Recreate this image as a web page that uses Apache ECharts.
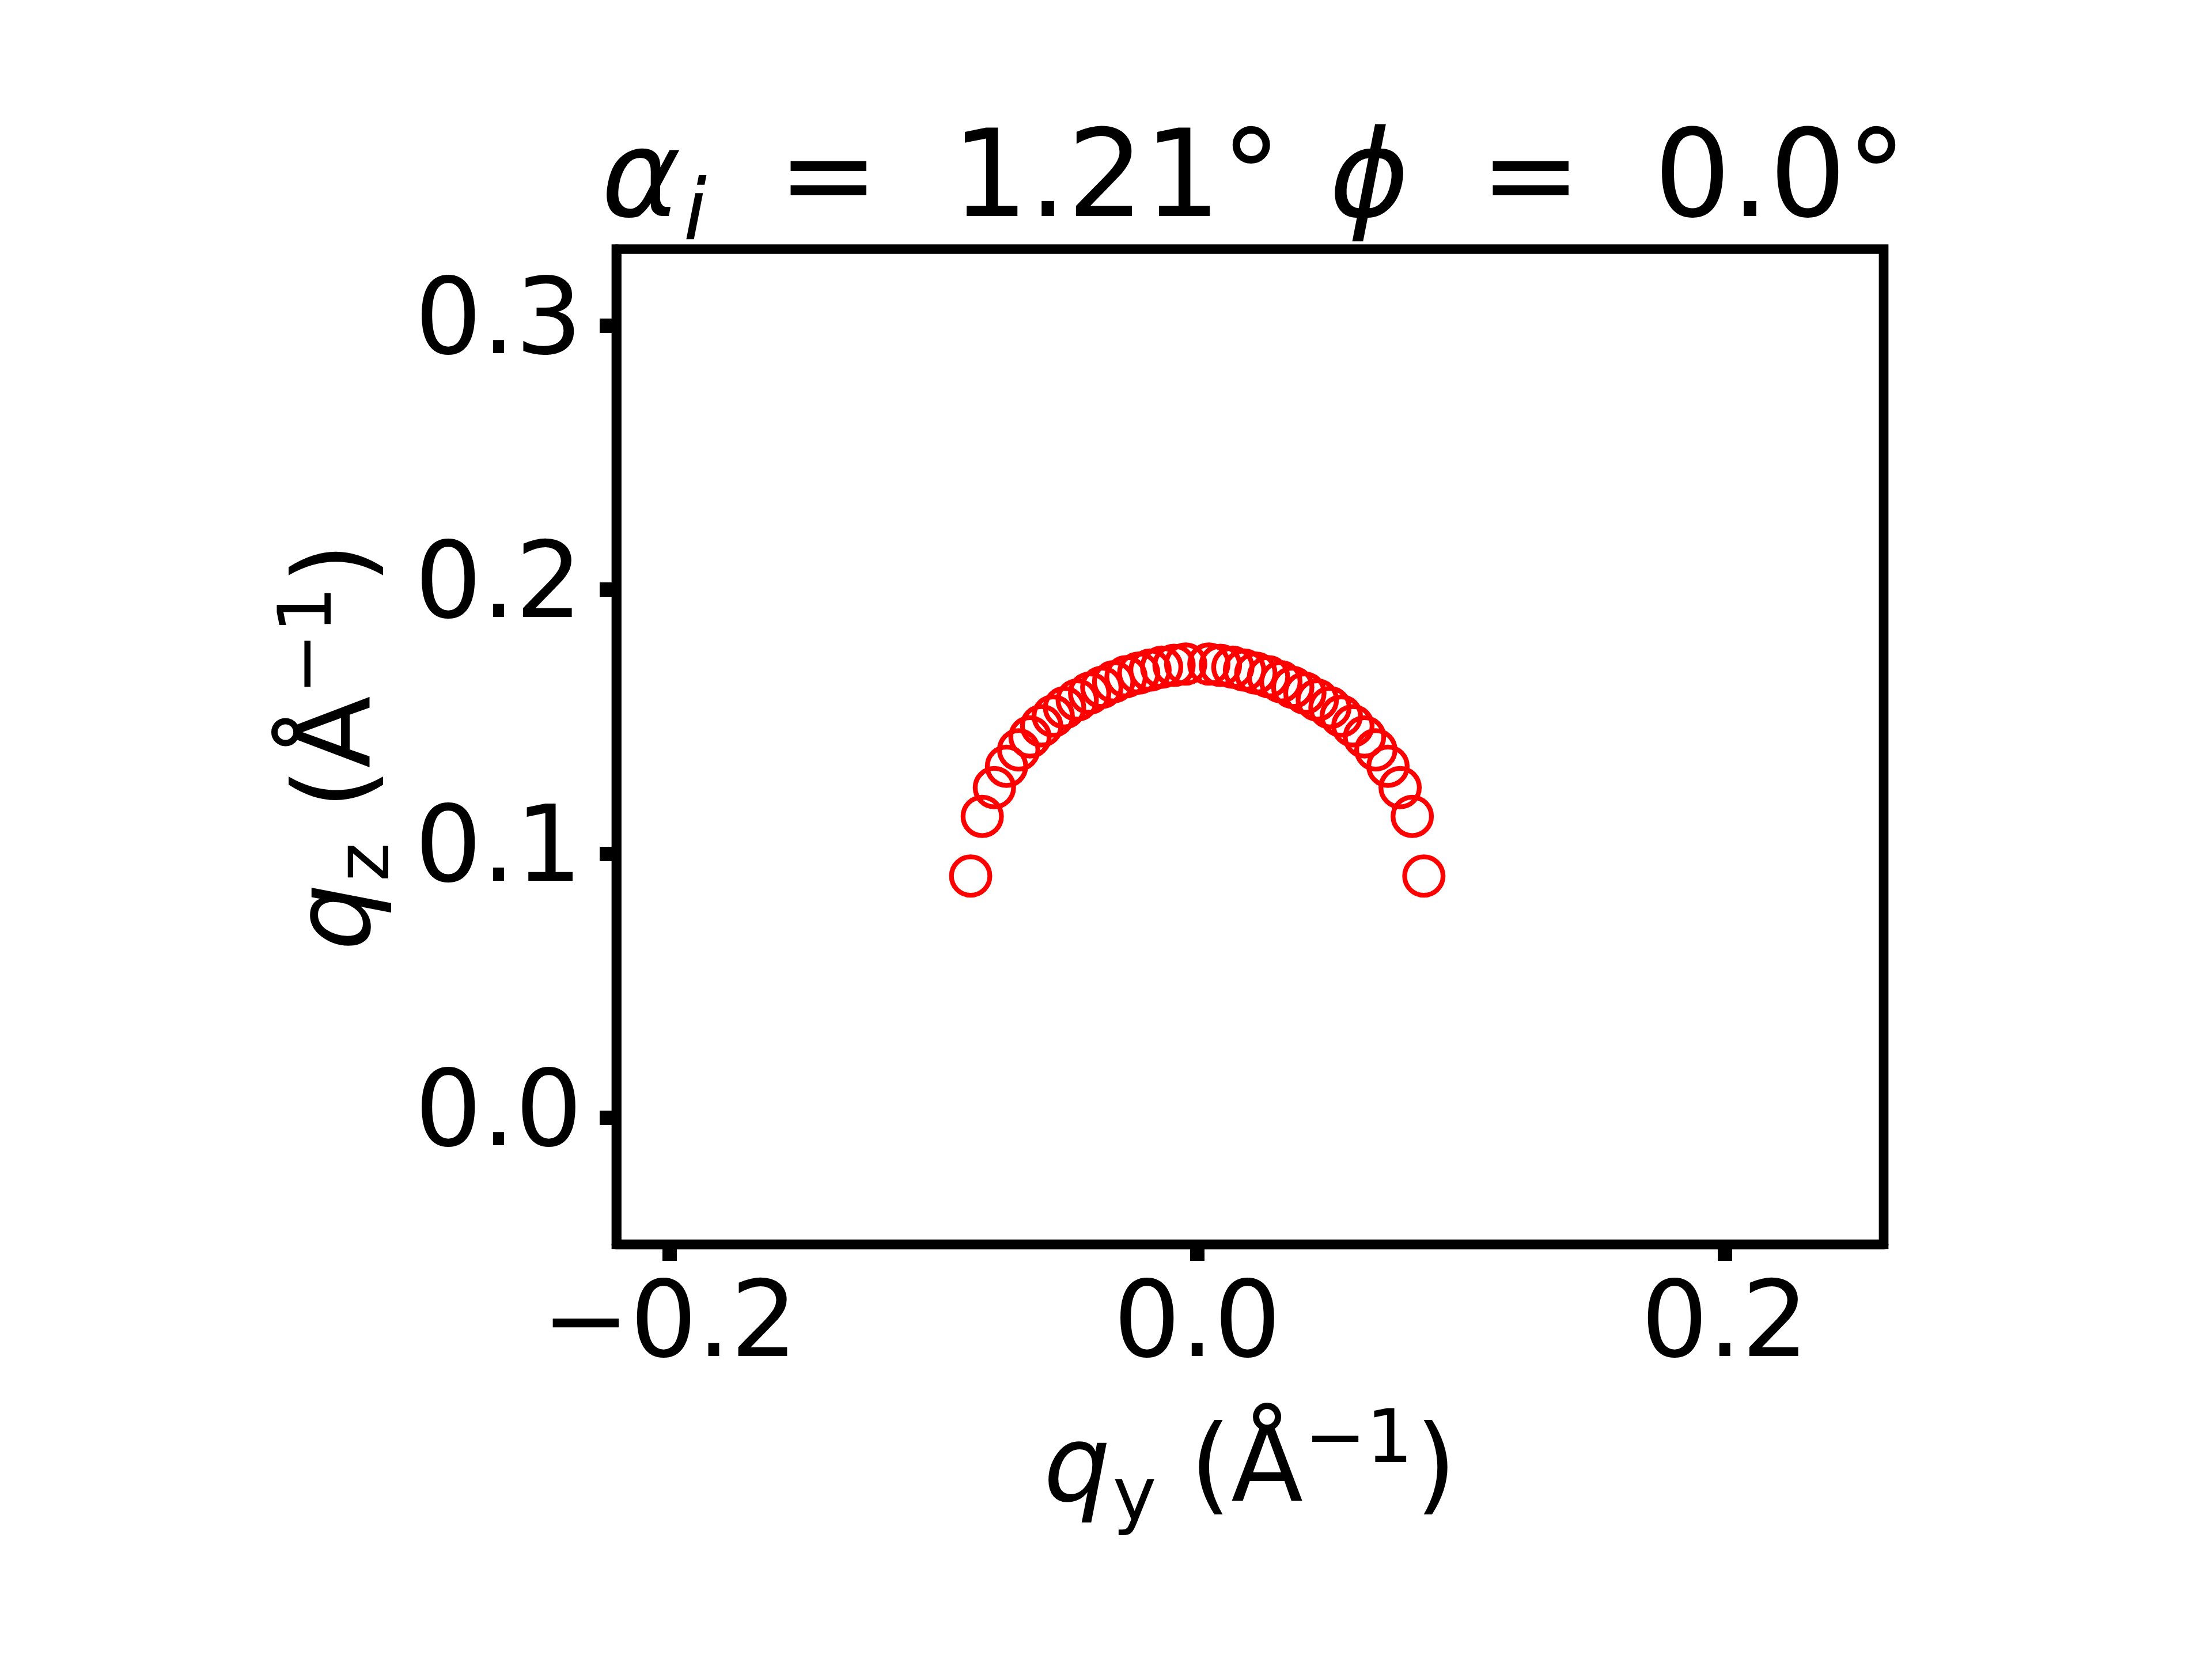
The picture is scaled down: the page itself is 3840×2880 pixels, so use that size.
<!DOCTYPE html>
<html>
<head>
<meta charset="utf-8">
<script src="https://cdn.jsdelivr.net/npm/echarts@6/dist/echarts.min.js"></script>
<style>
html,body{margin:0;padding:0;background:#fff;}
#chart{width:3840px;height:2880px;}
</style>
</head>
<body>
<div id="chart"></div>
<script>
// q_y values (Å^-1)
var qy = [-0.0859,-0.0815,-0.0769,-0.0723,-0.0677,-0.0634,-0.0590,-0.0546,-0.0503,-0.0455,
          -0.0408,-0.0362,-0.0317,-0.0270,-0.0222,-0.0179,-0.0135,-0.0088,-0.0044,
           0.0044, 0.0088, 0.0135, 0.0179, 0.0222, 0.0270, 0.0317, 0.0362, 0.0408, 0.0455,
           0.0503, 0.0546, 0.0590, 0.0634, 0.0677, 0.0723, 0.0769, 0.0815, 0.0859];
// q_z values (Å^-1)
var qz = [0.0915,0.1141,0.1250,0.1331,0.1393,0.1442,0.1484,0.1521,0.1553,0.1582,
          0.1608,0.1630,0.1651,0.1670,0.1684,0.1695,0.1706,0.1713,0.1718,
          0.1718,0.1713,0.1706,0.1695,0.1684,0.1670,0.1651,0.1630,0.1608,0.1582,
          0.1553,0.1521,0.1484,0.1442,0.1393,0.1331,0.1250,0.1141,0.0915];
var xTicks = [-0.2, 0.0, 0.2];
var yTicks = [0.0, 0.1, 0.2, 0.3];
var xRange = [-0.2202, 0.2602];
var yRange = [-0.048, 0.329];

var FONT = 'DejaVu Sans';
function fmt(v){ var s = Math.abs(v).toFixed(1); return (v < -1e-9 ? '\u2212' : '') + s; }

var points = qy.map(function(x, i){ return [x, qz[i]]; });

function nameRich(){
  return {
    n:  {fontFamily: FONT, fontSize: 183, lineHeight: 230, color: '#000'},
    q:  {fontFamily: FONT, fontSize: 183, lineHeight: 230, fontStyle: 'italic', color: '#000'},
    sub:{fontFamily: FONT, fontSize: 128, lineHeight: 100, padding: [96, 0, 0, 4], color: '#000'},
    sup:{fontFamily: FONT, fontSize: 128, lineHeight: 100, padding: [0, 4, 104, 2], color: '#000'}
  };
}

var chart = echarts.init(document.getElementById('chart'), null, {renderer: 'canvas', width: 3840, height: 2880});
chart.setOption({
  backgroundColor: '#fff',
  animation: false,
  title: {
    text: '{a|\u03b1}{s|i}{eq|=}{n|1.21\u00b0}{p|\u03d5}{eq|=}{n|0.0\u00b0}',
    left: 2177,
    top: 185,
    padding: 0,
    textAlign: 'center',
    textStyle: {
      fontFamily: FONT, fontSize: 210, fontWeight: 'normal', color: '#000', lineHeight: 270,
      rich: {
        a:  {fontFamily: FONT, fontSize: 210, lineHeight: 270, fontStyle: 'italic', color: '#000'},
        s:  {fontFamily: FONT, fontSize: 147, lineHeight: 100, fontStyle: 'italic', padding: [114, 0, 0, 4], color: '#000'},
        eq: {fontFamily: FONT, fontSize: 210, lineHeight: 270, padding: [0, 126, 0, 123], color: '#000'},
        n:  {fontFamily: FONT, fontSize: 210, lineHeight: 270, color: '#000'},
        p:  {fontFamily: FONT, fontSize: 210, lineHeight: 270, fontStyle: 'italic', padding: [0, 0, 0, 83], color: '#000'}
      }
    }
  },
  grid: {
    left: 1070, right: 570, top: 432.5, bottom: 720,
    show: true, borderColor: '#000', borderWidth: 16.7, backgroundColor: 'transparent',
    containLabel: false, outerBoundsMode: 'none'
  },
  xAxis: {
    type: 'value', min: xRange[0], max: xRange[1],
    name: '{q|q}{sub|y}{n| (\u00c5}{sup|\u22121}{n|)}',
    nameLocation: 'middle', nameGap: 282,
    nameTextStyle: {fontFamily: FONT, fontSize: 183, lineHeight: 230, color: '#000', rich: nameRich()},
    axisLine: {show: true, onZero: false, lineStyle: {color: '#000', width: 16.7}},
    axisTick: {show: true, length: 29, customValues: xTicks, lineStyle: {color: '#000', width: 25}},
    axisLabel: {show: true, customValues: xTicks, formatter: fmt, margin: 55,
                fontFamily: FONT, fontSize: 183, lineHeight: 183, color: '#000'},
    splitLine: {show: false}
  },
  yAxis: {
    type: 'value', min: yRange[0], max: yRange[1],
    name: '{q|q}{sub|z}{n| (\u00c5}{sup|\u22121}{n|)}',
    nameLocation: 'middle', nameGap: 359, nameRotate: 90,
    nameTextStyle: {fontFamily: FONT, fontSize: 183, lineHeight: 230, color: '#000', rich: nameRich()},
    axisLine: {show: true, onZero: false, lineStyle: {color: '#000', width: 16.7}},
    axisTick: {show: true, length: 29, customValues: yTicks, lineStyle: {color: '#000', width: 25}},
    axisLabel: {show: true, customValues: yTicks, formatter: fmt, margin: 59, padding: [20, 0, 0, 0],
                fontFamily: FONT, fontSize: 183, lineHeight: 183, color: '#000'},
    splitLine: {show: false}
  },
  series: [{
    type: 'scatter',
    data: points,
    symbol: 'circle',
    symbolSize: 66.7,
    itemStyle: {color: 'rgba(0,0,0,0)', borderColor: '#ff0000', borderWidth: 8.3, opacity: 1},
    emphasis: {disabled: true}
  }]
});
</script>
</body>
</html>
